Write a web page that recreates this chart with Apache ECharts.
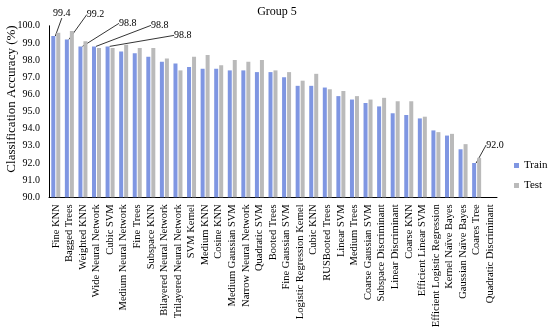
<!DOCTYPE html>
<html><head><meta charset="utf-8">
<script src="https://cdn.jsdelivr.net/npm/echarts@6/dist/echarts.min.js"></script>
<style>html,body{margin:0;padding:0;background:#fff}#c{width:550px;height:329px}</style>
</head><body><div id="c"></div>
<script>
const categories = ['Fine KNN','Bagged Trees','Weighted KNN','Wide Neural Network','Cubic SVM','Medium Neural Network','Fine Trees','Subspace KNN','Bilayered Neural Network','Trilayered Neural Network','SVM Kernel','Medium KNN','Cosine KNN','Medium Gaussian SVM','Narrow Neural Network','Quadratic SVM','Booted Trees','Fine Gaussian SVM','Logistic Regression Kernel','Cubic KNN','RUSBooted Trees','Linear SVM','Medium Trees','Coarse Gaussian SVM','Subspace Discriminant','Linear Discriminant','Coarse KNN','Efficient Linear SVM','Efficient Logistic Regression','Kernel Naïve Bayes','Gaussian Naïve Bayes','Coares Tree','Quadratic Discriminant'];
const train = [99.4,99.2,98.8,98.8,98.8,98.5,98.4,98.2,97.9,97.8,97.6,97.5,97.5,97.4,97.4,97.3,97.3,97.0,96.5,96.5,96.4,95.9,95.7,95.5,95.3,94.9,94.8,94.6,93.9,93.6,92.8,92.0,null];
const test = [99.6,99.7,99.1,98.7,98.7,98.9,98.7,98.7,98.1,97.4,98.2,98.3,97.7,98.0,97.9,98.0,97.4,97.3,96.8,97.2,96.3,96.2,95.9,95.7,95.8,95.6,95.6,94.7,93.8,93.7,93.1,92.3,null];
const labeledIdx = [0,1,2,3,4,31];
const yTicks = {min: 90, max: 100, interval: 1};
const yName = 'Classification Accuracy (%)';

// label offsets (relative to bar top centre), styling only
const lab = {
  0: {dx: 8.5, dy: -23, centered: true},
  1: {dx: 20, dy: -25, h: 6},
  2: {dx: 38.5, dy: -23, h: 6},
  3: {dx: 57, dy: -21, h: 8},
  4: {dx: 66.5, dy: -11, h: 6},
  31: {dx: 12, dy: -18, h: 5}
};

const FONT = 'Liberation Serif';
const chart = echarts.init(document.getElementById('c'), null, {renderer: 'canvas'});
const trainData = train.map((v, i) => labeledIdx.includes(i)
  ? {value: v, label: {show: true, formatter: p => p.value.toFixed(1)}}
  : {value: v});

chart.setOption({
  animation: false,
  textStyle: {fontFamily: FONT, color: '#000'},
  title: {text: 'Group 5', left: 272, textAlign: 'center', top: 1,
    textStyle: {fontFamily: FONT, fontSize: 12, fontWeight: 'normal', color: '#000'}},
  legend: {orient: 'vertical', left: 514, top: 160, padding: 0, itemWidth: 5, itemHeight: 5, itemGap: 9,
    icon: 'rect', textStyle: {fontFamily: FONT, fontSize: 11, color: '#000'},
    data: ['Train', 'Test']},
  graphic: [{type: 'text', x: 12, y: 99, rotation: Math.PI / 2,
    style: {text: yName, font: '13px "Liberation Serif"', fill: '#000', align: 'center', verticalAlign: 'middle'}}],
  grid: {left: 49, right: 53, top: 25.8, bottom: 131.7, containLabel: false, outerBoundsMode: 'none'},
  xAxis: {type: 'category', data: categories,
    axisLine: {lineStyle: {color: '#000', width: 1}},
    axisTick: {show: false},
    axisLabel: {rotate: 90, interval: 0, margin: 7, fontFamily: FONT, fontSize: 10.5, color: '#000'}},
  yAxis: {type: 'value', min: yTicks.min, max: yTicks.max, interval: yTicks.interval,
    axisLine: {show: true, lineStyle: {color: '#000', width: 1}},
    axisTick: {show: false}, splitLine: {show: false},
    axisLabel: {margin: 9, fontFamily: FONT, fontSize: 10, color: '#000', formatter: v => v.toFixed(1)}},
  series: [
    {name: 'Train', type: 'bar', data: trainData, barWidth: 4, barGap: '25%',
      itemStyle: {color: '#7f96e2'},
      label: {show: false, position: 'top', fontFamily: FONT, fontSize: 10, color: '#000'},
      labelLine: {show: true, lineStyle: {color: '#000', width: 0.8}},
      labelLayout: function (p) {
        const c = lab[p.dataIndex];
        if (!c) return {};
        const bx = p.rect.x + p.rect.width / 2, by = p.rect.y;
        const x = bx + c.dx, y = by + c.dy;
        if (c.centered) {
          return {x: x, y: y, align: 'center', verticalAlign: 'middle',
            labelLinePoints: [[bx, by - 1], [x, y + 6], [x, y + 6]]};
        }
        return {x: x, y: y, align: 'left', verticalAlign: 'middle',
          labelLinePoints: [[bx, by - 1], [x - 3 - c.h, y], [x - 3, y]]};
      }},
    {name: 'Test', type: 'bar', data: test, barWidth: 4, itemStyle: {color: '#bababa'}}
  ]
});
</script></body></html>
